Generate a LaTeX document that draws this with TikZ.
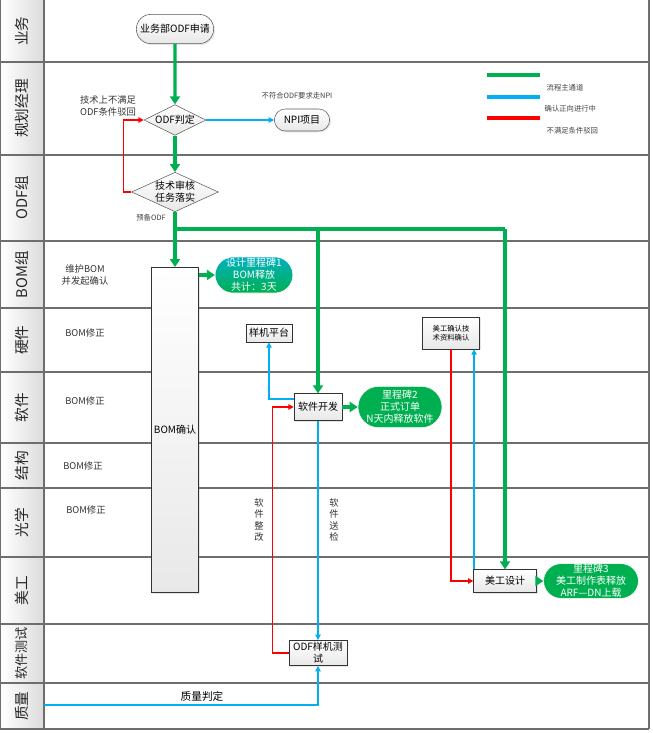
\documentclass[tikz,border=0pt]{standalone}
\usepackage{fontspec}
\setmainfont{Noto Sans CJK SC}
\usetikzlibrary{shapes.geometric,shapes.misc,shadows,arrows.meta}

\definecolor{flowgreen}{RGB}{0,176,80}
\definecolor{flowblue}{RGB}{0,176,240}
\definecolor{flowred}{RGB}{255,0,0}
\definecolor{gridgray}{RGB}{110,110,110}

\tikzstyle{lane}=[draw=gridgray,line width=1pt]
\tikzstyle{lanetitle}=[rotate=90,text=black!85]
\tikzstyle{startend}=[rounded rectangle,draw=gray!70!black,top color=white,bottom color=gray!18,drop shadow={opacity=0.2,shadow xshift=1pt,shadow yshift=-1pt},font=\fontsize{7.5}{9}\selectfont,inner sep=1pt]
\tikzstyle{decision}=[diamond,aspect=2.2,draw=gray!70!black,top color=white,bottom color=gray!18,inner sep=0pt,align=center,font=\fontsize{7.5}{9}\selectfont]
\tikzstyle{task}=[rectangle,draw=gray!40!black,top color=white,bottom color=gray!18,drop shadow={opacity=0.2,shadow xshift=1pt,shadow yshift=-1pt},align=center,inner sep=1pt,font=\fontsize{7.5}{9}\selectfont]
\tikzstyle{milestone}=[rounded rectangle,draw=white,fill=flowgreen,text=white,align=center,inner sep=0pt,font=\fontsize{7.5}{9}\selectfont]
\tikzstyle{main}=[draw=flowgreen,line width=2.6pt,>={Triangle[length=6pt,width=7.5pt]}]
\tikzstyle{confirm}=[draw=flowblue,line width=1pt,>={Triangle[length=4pt,width=4pt]}]
\tikzstyle{back}=[draw=flowred,line width=1pt,>={Triangle[length=4pt,width=4pt]}]
\tikzstyle{note}=[font=\fontsize{7}{8.5}\selectfont,align=center,text=black!80]
\tikzstyle{tiny}=[font=\fontsize{5.5}{6.5}\selectfont,align=center,text=black!75]

\begin{document}
\begin{tikzpicture}[x=0.75pt,y=-0.75pt]
\useasboundingbox (0,0) rectangle (653,733);

% lanes
\foreach \top/\bot/\name/\sz [count=\i] in {0/62/业务/11, 62/155/规划经理/11, 155/241/ODF组/11, 241/308/BOM组/11, 308/372/硬件/11, 372/443/软件/11, 443/488/结构/11, 488/557/光学/11, 557/624/美工/11, 624/683/软件测试/9.8, 683/729/质量/11}
{
\shade[left color=white,right color=black!14] (1,\top) rectangle (44,\bot);
\node[lanetitle,font=\fontsize{\sz}{\sz}\selectfont] (lane\i) at (22,{(\top+\bot)/2}) {\name};
}
\foreach \y in {62,155,241,308,372,443,488,557,624,683,729}
\draw[lane] (0,\y) -- (649,\y);
\foreach \x in {0,44,649}
\draw[lane] (\x,0) -- (\x,729);

% legend
\draw[main,line width=3pt] (487,75) -- (540,75);
\draw[confirm,line width=3pt] (487,97) -- (540,97);
\draw[back,line width=3pt] (487,118) -- (540,118);
\node[tiny,anchor=west] (legmain) at (542,88) {流程主通道};
\node[tiny,anchor=west] (legconfirm) at (540,109) {确认正向进行中};
\node[tiny,anchor=west] (legback) at (542,131) {不满足条件驳回};

% nodes
\node[startend,minimum width=60pt,minimum height=22pt] (apply) at (175,29) {业务部ODF申请};
\node[decision,minimum width=46.5pt,minimum height=23pt] (odfjudge) at (175,120) {ODF判定};
\node[startend,minimum width=43.5pt,minimum height=16.5pt] (npi) at (302,120) {NPI项目};
\node[decision,minimum width=61.5pt,minimum height=29pt] (techreview) at (175,192) {技术审核\\任务落实};
\node[task,minimum width=35pt,minimum height=244pt] (bomcheck) at (175,430) {BOM确认};
\node[milestone,minimum width=55pt,minimum height=27pt,fill=none,top color=flowblue!70!flowgreen,bottom color=flowgreen] (ms1) at (254,275) {设计里程碑1\\BOM释放\\共计：3天};
\node[task,minimum width=34.5pt,minimum height=13.5pt] (proto) at (269,333) {样机平台};
\node[task,minimum width=36pt,minimum height=20pt] (swdev) at (318,407) {软件开发};
\node[milestone,minimum width=60pt,minimum height=31pt] (ms2) at (400,407) {里程碑2\\正式订单\\N天内释放软件};
\node[task,minimum width=43pt,minimum height=24pt,font=\fontsize{5.5}{7}\selectfont] (artcheck) at (451,333) {美工确认技\\术资料确认};
\node[task,minimum width=47pt,minimum height=17pt] (artdesign) at (505,581) {美工设计};
\node[milestone,minimum width=55.5pt,minimum height=26pt] (ms3) at (591,581) {里程碑3\\美工制作表释放\\ARF—DN上载};
\node[task,minimum width=43.5pt,minimum height=19pt] (odftest) at (318,653) {ODF样机测\\试};

% texts
\node[tiny] (npinote) at (297,96) {不符合ODF要求走NPI};
\node[note] (rejectnote) at (108,106) {技术上不满足\\ODF条件驳回};
\node[tiny] (prepnote) at (151,218) {预备ODF};
\node[note] (bomkeep) at (85,275) {维护BOM\\并发起确认};
\foreach \pos/\name in {(85,333)/hwfix, (85,401)/swfix, (83,466)/mechfix, (86,510)/optfix}
\node[note] (\name) at \pos {BOM修正};
\node[note] (swfixnote) at (259,520) {软\\件\\整\\改};
\node[note] (swsendnote) at (334,520) {软\\件\\送\\检};
\node[note,font=\fontsize{8}{9}\selectfont,text=black] (qualitynote) at (202,696) {质量判定};

% main flow
\coordinate (j1) at (175,229);
\coordinate (j2) at (swdev |- j1);
\coordinate (j3) at (artdesign |- j1);
\draw[main,->] (apply) -- (odfjudge);
\draw[main,->] (odfjudge) -- (techreview);
\draw[main,->] (techreview) -- (bomcheck);
\draw[main] (j1) -- (j3);
\draw[main,->] (j2) -- (swdev);
\draw[main,->] (j3) -- (artdesign);
\draw[main,->] (bomcheck.east |- ms1) -- (ms1);
\draw[main,->] (swdev) -- (ms2);
\draw[main,->] (artdesign) -- (ms3);

% confirm
\draw[confirm,->] (odfjudge) -- (npi);
\draw[confirm,->] ([yshift=6pt]swdev.west) -| (proto.south);
\draw[confirm,->] (swdev) -- (odftest);
\coordinate (qstart) at (44,705);
\draw[confirm,->] (qstart) -| (odftest.south);
\draw[confirm,->] ([xshift=0.5pt]artdesign.north west) -- ([xshift=0.5pt]artdesign.north west |- artcheck.south);

% reject
\draw[back,->] (techreview.west) -- ++(-8,0) |- (odfjudge.west);
\draw[back,->] (odftest.west) -- ++(-16,0) |- (swdev.west);
\draw[back,->] (artcheck.south) |- (artdesign.west);
\end{tikzpicture}
\end{document}
